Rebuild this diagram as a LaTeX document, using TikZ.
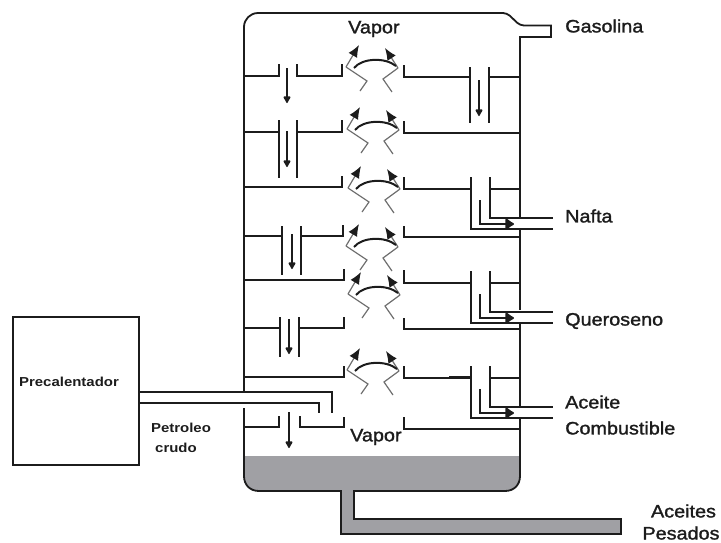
\documentclass[tikz,border=0pt]{standalone}
\usepackage{fontspec}
\usetikzlibrary{arrows.meta}
\newfontfamily\lab[FakeStretch=1.1,FakeBold=1.5]{Liberation Sans}
\newfontfamily\labb[FakeStretch=1.15]{Liberation Sans Bold}
\definecolor{ink}{HTML}{1C1C1C}
\definecolor{zig}{HTML}{6E6E6E}
\definecolor{oil}{HTML}{A0A0A4}
\tikzset{
  wall/.style={draw=ink,line width=1.8pt,line join=miter},
  flow/.style={draw=ink,line width=1.8pt,-{Latex[length=8pt,width=9pt,round]}},
  bold flow/.style={draw=ink,line width=2.8pt,-{Latex[length=10pt,width=14pt,round]}},
  zigline/.style={draw=zig,line width=1.2pt},
  vaptip/.style={draw=zig,line width=1.2pt,-{Latex[length=12pt,width=10pt,color=ink]}},
  arcline/.style={draw=ink,line width=2pt},
  biglabel/.style={inner sep=0pt,font=\lab\fontsize{18}{20}\selectfont,text=ink},
  smalllabel/.style={inner sep=0pt,font=\labb\fontsize{13}{15}\selectfont,text=ink}
}
% bubble cap at offset #1,#2 from the top one
\newcommand{\bubblecap}[2]{%
  \begin{scope}[shift={(#1,#2)}]
    \draw[zigline] (360,91) -- (367,81) -- (346,67);
    \draw[vaptip] (346,67) -- (359,45);
    \draw[zigline] (392,92) -- (383,79) -- (398,68);
    \draw[vaptip] (398,68) -- (385,48);
    \draw[arcline] (354,68) .. controls (362,58) and (385,57) .. (396,66);
  \end{scope}}
% side draw-off on the right
\newcommand{\drawoff}[2]{%
  \begin{scope}[shift={(0,#1)}]
    \draw[wall] (404,#2) -- (404,12) -- (471,12);
    \draw[wall] (471,0) -- (471,52) -- (553,52);
    \draw[wall] (490,0) -- (490,41) -- (553,41);
    \draw[wall] (490,12) -- (520,12);
    \draw[bold flow] (480,23) -- (480,47) -- (514,47);
  \end{scope}}
\begin{document}
\begin{tikzpicture}[x=1pt,y=-1pt]
\useasboundingbox (0,0) rectangle (721,542);
% residue and pipe
\fill[oil] (244,456) -- (244,476) .. controls (244,485) and (250,491) .. (259,491) -- (341,491) -- (341,534) -- (621,534) -- (621,519) -- (354,519) -- (354,491) -- (505,491) .. controls (514,491) and (520,485) .. (520,476) -- (520,456) -- cycle;
% column shell
\draw[wall] (244,391) [rounded corners=14pt] -- (244,13) -- (300,13) [rounded corners=4pt] -- (507,13) -- (520,25.5) [sharp corners] -- (551,25.5) -- (551,37) -- (520,37) -- (520,218);
\draw[wall] (520,229) -- (520,310);
\draw[wall] (520,323) -- (520,407);
\draw[wall] (244,408) -- (244,476) .. controls (244,485) and (250,491) .. (259,491) -- (341,491) -- (341,534) -- (621,534) -- (621,519) -- (354,519) -- (354,491) -- (505,491) .. controls (514,491) and (520,485) .. (520,476) -- (520,418);
% left trays
\draw[wall] (244,76) -- (279,76) -- (279,64);
\draw[wall] (297,64) -- (297,76) -- (342,76) -- (342,64);
\draw[flow] (287,68) -- (287,103);
\draw[wall] (244,132) -- (279,132);
\draw[wall] (279,120) -- (279,178);
\draw[wall] (297,120) -- (297,178);
\draw[wall] (297,132) -- (342,132) -- (342,120);
\draw[flow] (287,131) -- (287,167);
\draw[wall] (244,187) -- (342,187) -- (342,176);
\draw[wall] (244,236) -- (282,236);
\draw[wall] (282,226) -- (282,275);
\draw[wall] (301,226) -- (301,275);
\draw[wall] (301,236) -- (343,236) -- (343,225);
\draw[flow] (292,234) -- (292,269);
\draw[wall] (244,280) -- (344,280) -- (344,269);
\draw[wall] (244,328) -- (280,328);
\draw[wall] (280,317) -- (280,357);
\draw[wall] (299,317) -- (299,357);
\draw[wall] (299,328) -- (344,328) -- (344,317);
\draw[flow] (289,319) -- (289,354);
\draw[wall] (244,377) -- (344,377) -- (344,366);
\draw[wall] (244,427) -- (279,427) -- (279,416);
\draw[wall] (300,416) -- (300,427) -- (344,427) -- (344,417);
\draw[flow] (289,412) -- (289,448);
% right trays
\draw[wall] (404,65) -- (404,77) -- (470,77);
\draw[wall] (470,67) -- (470,123);
\draw[wall] (489,67) -- (489,123);
\draw[wall] (489,77) -- (520,77);
\draw[flow] (479,80) -- (479,116);
\draw[wall] (404,121) -- (404,133) -- (520,133);
\drawoff{177}{0}
\draw[wall] (404,226) -- (404,237) -- (520,237);
\drawoff{271}{-1}
\draw[wall] (404,318) -- (404,329) -- (520,329);
\drawoff{366}{0}
\draw[wall] (449,377) -- (471,377);
\draw[wall] (404,417) -- (404,429) -- (520,429);
% bubble caps
\bubblecap{0}{0}
\bubblecap{1}{62}
\bubblecap{2}{121}
\bubblecap{0}{179}
\bubblecap{2}{227}
\bubblecap{1}{303}
% preheater
\node[draw=ink,line width=1.8pt,minimum width=126pt,minimum height=148pt,inner sep=0pt] (precal) at (76,391) {};
\coordinate (feedA) at (332,413);
\coordinate (feedB) at (319,413);
\draw[wall] (precal.east |- 0,392) -- (332,392) -- (feedA);
\draw[wall] (precal.east |- 0,403) -- (319,403) -- (feedB);
% labels
\node[biglabel,anchor=west] (vaporT) at (348,29) {Vapor};
\node[biglabel,anchor=west] (vaporB) at (350,437) {Vapor};
\node[biglabel,anchor=west] (gas) at (565,26) {Gasolina};
\node[biglabel,anchor=west] (naf) at (565,216) {Nafta};
\node[biglabel,anchor=west] (que) at (565,321) {Queroseno};
\node[biglabel,anchor=west] (ace) at (565,402) {Aceite};
\node[biglabel,anchor=west] (com) at (565,428) {Combustible};
\node[biglabel] (acp) at (683.5,511) {Aceites};
\node[biglabel,anchor=base] (pes) at (681,539.5) {Pesados};
\node[smalllabel] (pretxt) at (69,382) {Precalentador};
\node[smalllabel] (pet) at (181,428) {Petroleo};
\node[smalllabel] (cru) at (176,448) {crudo};
\end{tikzpicture}
\end{document}
